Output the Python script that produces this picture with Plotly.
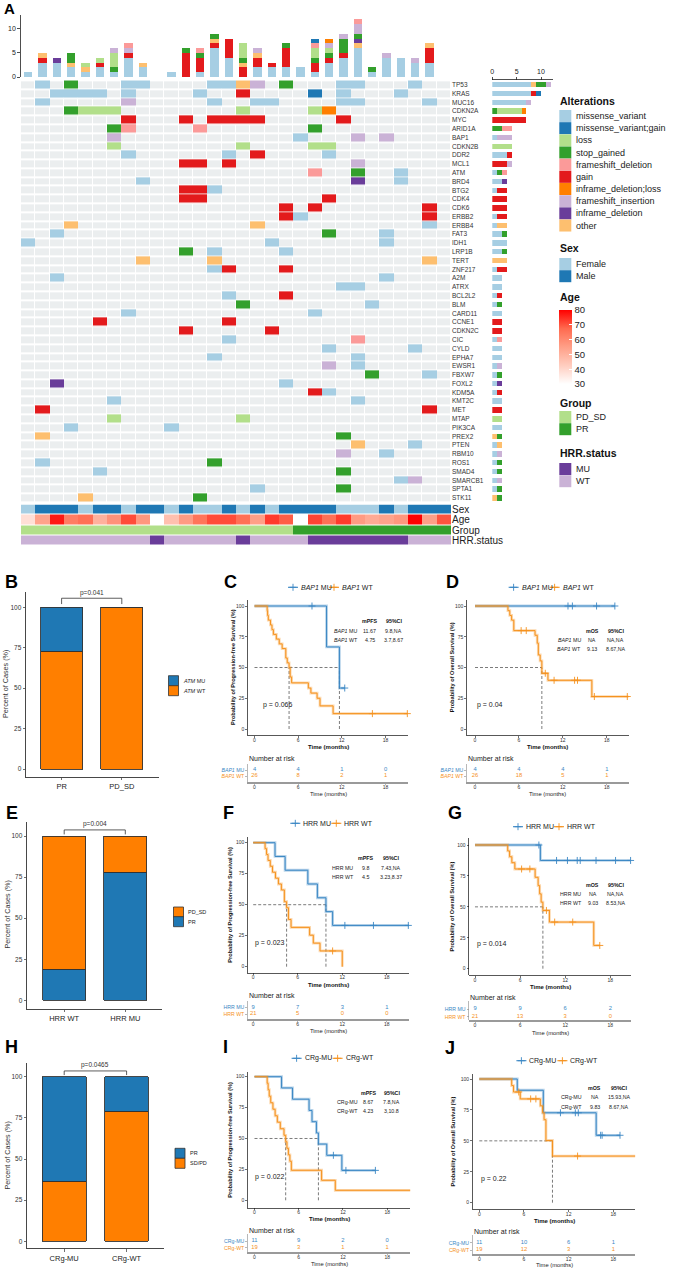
import numpy as np
import plotly.graph_objects as go

W, H = 681, 1270
FONT = "Liberation Sans, Arial, Helvetica, sans-serif"

# ======================= Panel A : oncoprint data =======================
SAMPLES = list(range(30))
GENES = ["TP53", "KRAS", "MUC16", "CDKN2A", "MYC", "ARID1A", "BAP1", "CDKN2B", "DDR2", "MCL1",
         "ATM", "BRD4", "BTG2", "CDK4", "CDK6", "ERBB2", "ERBB4", "FAT3", "IDH1", "LRP1B", "TERT",
         "ZNF217", "A2M", "ATRX", "BCL2L2", "BLM", "CARD11", "CCNE1", "CDKN2C", "CIC", "CYLD",
         "EPHA7", "EWSR1", "FBXW7", "FOXL2", "KDM5A", "KMT2C", "MET", "MTAP", "PIK3CA", "PREX2",
         "PTEN", "RBM10", "ROS1", "SMAD4", "SMARCB1", "SPTA1", "STK11"]
GENE_PCT = (["40%", "33%", "27%", "23%", "23%", "13%", "13%", "13%", "13%", "13%"]
            + ["10%"] * 12 + ["7%"] * 26)
# "<sample><code>" ; codes: m missense, M missense;gain, l loss, s stop_gained, d frameshift_deletion,
# g gain, L inframe_deletion;loss, i frameshift_insertion, n inframe_deletion, o other
GENE_ALTS = [
    "1m 3s 7m 8m 13m 14m 15o 16i 18s 22m 23m 27m",   # TP53
    "2m 3m 4m 5m 7m 12m 15g 20M 22m 26m",             # KRAS
    "1m 7i 13m 16m 17m 22m 23m 28m",                  # MUC16
    "3s 4l 5l 6l 15l 20l 21L",                        # CDKN2A
    "7g 11g 13g 14g 15g 16g 22g",                     # MYC
    "6s 7d 12d 20s",                                  # ARID1A
    "6i 19m 23i 25i",                                 # BAP1
    "6l 15l 20l 21l",                                 # CDKN2B
    "7m 14m 16g 21m",                                 # DDR2
    "11g 12g 14g 23i",                                # MCL1
    "20d 23s 26m",                                    # ATM
    "8m 23n 26m",                                     # BRD4
    "11g 12g 13m",                                    # BTG2
    "11g 12g 21g",                                    # CDK4
    "18g 20g 28g",                                    # CDK6
    "18g 19m 28g",                                    # ERBB2
    "3o 16o 28m",                                     # ERBB4
    "2m 21s 25m",                                     # FAT3
    "0m 17m 25m",                                     # IDH1
    "11s 13m 18m",                                    # LRP1B
    "8o 13o 28o",                                     # TERT
    "13m 14g 18g",                                    # ZNF217
    "2m 25m",                                         # A2M
    "22m 23m",                                        # ATRX
    "14m 18g",                                        # BCL2L2
    "15s 24m",                                        # BLM
    "7m 20m",                                         # CARD11
    "5g 14g",                                         # CCNE1
    "11g 17g",                                        # CDKN2C
    "14m 23d",                                        # CIC
    "21m 27m",                                        # CYLD
    "13m 23m",                                        # EPHA7
    "21i 23m",                                        # EWSR1
    "24s 28m",                                        # FBXW7
    "2n 18m",                                         # FOXL2
    "20g 21m",                                        # KDM5A
    "6m 23m",                                         # KMT2C
    "1g 28g",                                         # MET
    "6l 15l",                                         # MTAP
    "3m 10m",                                         # PIK3CA
    "1o 22s",                                         # PREX2
    "23o 27m",                                        # PTEN
    "22i 25m",                                        # RBM10
    "1m 13s",                                         # ROS1
    "5m 22s",                                         # SMAD4
    "26m 27i",                                        # SMARCB1
    "16m 22s",                                        # SPTA1
    "4o 12s",                                         # STK11
]
ALT_NAMES = ["missense_variant", "missense_variant;gain", "loss", "stop_gained", "frameshift_deletion",
             "gain", "inframe_deletion;loss", "frameshift_insertion", "inframe_deletion", "other"]
ALT_CODES = ["m", "M", "l", "s", "d", "g", "L", "i", "n", "o"]
ALT_COLORS = ["#A6CEE3", "#1F78B4", "#B2DF8A", "#33A02C", "#FB9A99", "#E31A1C", "#FF7F00",
              "#CAB2D6", "#6A3D9A", "#FDBF6F"]
STACK_ORDER = ["m", "g", "o", "n", "s", "l", "i", "d", "M", "L"]

SEX = ["Female", "Male", "Male", "Male", "Female", "Male", "Male", "Female", "Male", "Male",
       "Female", "Male", "Female", "Female", "Male", "Female", "Male", "Female", "Male", "Male",
       "Male", "Male", "Female", "Female", "Female", "Male", "Female", "Male", "Male", "Male"]
AGE = [38, 54, 77, 63, 66, 50, 58, 71, 57, None, 46, 56, 65, 71, 71, 66, 55, 73, 69, None,
       72, 66, 73, 56, 52, 54, 57, 80, 55, 70]
GROUP = ["PD_SD"] * 19 + ["PR"] * 11
HRR = ["WT"] * 9 + ["MU"] + ["WT"] * 5 + ["MU"] + ["WT"] * 4 + ["MU"] * 7 + ["WT"] * 3
SEX_LEVELS, SEX_COLORS = ["Female", "Male"], ["#A6CEE3", "#1F78B4"]
GROUP_LEVELS, GROUP_COLORS = ["PD_SD", "PR"], ["#B2DF8A", "#33A02C"]
HRR_LEVELS, HRR_COLORS = ["MU", "WT"], ["#6A3D9A", "#CAB2D6"]
AGE_TICKS = [30, 40, 50, 60, 70, 80]
TRACK_NAMES = ["Sex", "Age", "Group", "HRR.status"]

# ======================= Bar panels B, E, H =======================
B_CATS = ["PR", "PD_SD"]
B_ATM_WT = [72.7, 100.0]
B_ATM_MU = [27.3, 0.0]
E_CATS = ["HRR WT", "HRR MU"]
E_PR = [19.0, 77.8]
E_PDSD = [81.0, 22.2]
H_CATS = ["CRg-MU", "CRg-WT"]
H_SDPD = [36.4, 78.9]
H_PR = [63.6, 21.1]

# ======================= KM panels =======================
KM_TICKS = [0, 6, 12, 18]
# C : PFS by BAP1
C_MU_T = [0, 9.9, 11.67, 12.4]
C_MU_S = [100, 66.7, 33.3, 33.3]
C_MU_CT = [7.9, 12.4]
C_MU_CS = [100, 33.3]
C_WT_T = [0, 1.74, 1.8, 1.9, 2.2, 2.4, 2.6, 3.0, 3.4, 3.8, 4.3, 4.5, 4.75, 4.9, 5.1, 7.4, 7.75, 8.6, 9.0, 10.8, 21.0]
C_WT_S = [100, 96.2, 92.3, 88.5, 84.6, 80.8, 76.9, 73.1, 69.2, 65.4, 57.7, 53.8, 50.0, 42.3, 37.5, 33.3, 29.2, 25.0, 18.8, 12.5, 12.5]
C_WT_CT = [16.2, 21.0]
C_WT_CS = [12.5, 12.5]
C_RISK_MU = [4, 4, 1, 0]
C_RISK_WT = [26, 8, 2, 1]
C_MED = [11.67, 4.75]
C_MED_TXT = ["11.67", "4.75"]
C_CI_TXT = ["9.8,NA", "3.7,8.67"]
# D : OS by BAP1
D_MU_T = [0, 19.1]
D_MU_S = [100, 100]
D_MU_CT = [12.7, 13.3, 16.6, 19.1]
D_MU_CS = [100, 100, 100, 100]
D_WT_T = [0, 4.5, 4.75, 5.0, 5.3, 8.2, 8.5, 8.65, 8.9, 9.13, 9.96, 15.96, 21.0]
D_WT_S = [100, 96.2, 92.3, 88.5, 80.0, 76.2, 69.8, 60.2, 55.4, 45.3, 39.6, 26.4, 26.4]
D_WT_CT = [6.3, 7.0, 9.6, 10.8, 13.6, 14.0, 16.3, 20.8]
D_WT_CS = [80.0, 80.0, 45.3, 39.6, 39.6, 39.6, 26.4, 26.4]
D_RISK_MU = [4, 4, 4, 1]
D_RISK_WT = [26, 18, 5, 1]
D_MED = [9.13]
D_MED_TXT = ["NA", "9.13"]
D_CI_TXT = ["NA,NA", "8.67,NA"]
# F : PFS by HRR
F_MU_T = [0, 2.94, 4.3, 7.36, 8.65, 9.8, 10.7, 21.0]
F_MU_S = [100, 88.9, 77.8, 66.7, 55.6, 44.4, 33.3, 33.3]
F_MU_CT = [12.35, 16.2, 20.9]
F_MU_CS = [33.3, 33.3, 33.3]
F_WT_T = [0, 1.6, 1.8, 2.0, 2.3, 2.6, 3.0, 3.4, 3.8, 4.2, 4.5, 4.75, 5.1, 7.6, 8.1, 9.0, 12.0]
F_WT_S = [100, 95.2, 90.5, 85.7, 81.0, 76.2, 71.4, 66.7, 61.9, 52.4, 47.6, 38.1, 31.7, 25.4, 19.0, 12.7, 0]
F_WT_CT = [10.7]
F_WT_CS = [12.7]
F_RISK_MU = [9, 7, 3, 1]
F_RISK_WT = [21, 5, 0, 0]
F_MED = [9.8, 4.5]
F_MED_TXT = ["9.8", "4.5"]
F_CI_TXT = ["7.43,NA", "3.23,8.37"]
# G : OS by HRR
G_MU_T = [0, 8.7, 20.7]
G_MU_S = [100, 87.5, 87.5]
G_MU_CT = [8.5, 10.85, 12.3, 13.6, 14.0, 16.1, 18.7, 20.7]
G_MU_CS = [100, 87.5, 87.5, 87.5, 87.5, 87.5, 87.5, 87.5]
G_WT_T = [0, 4.35, 4.6, 4.9, 5.3, 8.0, 8.4, 8.6, 8.8, 9.03, 9.9, 15.8, 16.6]
G_WT_S = [100, 95.2, 90.5, 85.7, 80.6, 73.9, 67.2, 60.5, 53.8, 47.1, 37.7, 18.8, 18.8]
G_WT_CT = [6.2, 7.3, 9.5, 10.6, 13.0, 16.6]
G_WT_CS = [80.6, 80.6, 47.1, 37.7, 37.7, 18.8]
G_RISK_MU = [9, 9, 6, 2]
G_RISK_WT = [21, 13, 3, 0]
G_MED = [9.03]
G_MED_TXT = ["NA", "9.03"]
G_CI_TXT = ["NA,NA", "8.53,NA"]
# I : PFS by CRg
I_MU_T = [0, 3.67, 5.16, 7.4, 7.8, 8.4, 8.67, 9.8, 11.85, 16.4]
I_MU_S = [100, 90.9, 81.8, 72.7, 63.6, 54.5, 45.5, 36.4, 24.2, 24.2]
I_MU_CT = [10.7, 12.4, 16.4]
I_MU_CS = [36.4, 24.2, 24.2]
I_WT_T = [0, 1.72, 1.85, 2.0, 2.2, 2.5, 2.8, 3.1, 3.5, 4.0, 4.23, 4.4, 4.6, 4.8, 5.0, 9.1, 10.96, 21.15]
I_WT_S = [100, 94.7, 89.5, 84.2, 78.9, 73.7, 68.4, 63.2, 57.9, 52.6, 47.4, 42.1, 36.8, 31.6, 24.3, 16.2, 8.1, 8.1]
I_WT_CT = [21.15]
I_WT_CS = [8.1]
I_RISK_MU = [11, 9, 2, 0]
I_RISK_WT = [19, 3, 1, 1]
I_MED = [8.67, 4.23]
I_MED_TXT = ["8.67", "4.23"]
I_CI_TXT = ["7.8,NA", "3,10.8"]
# J : OS by CRg
J_MU_T = [0, 5.1, 8.6, 15.7, 18.9]
J_MU_S = [100, 90.9, 72.7, 54.5, 54.5]
J_MU_CT = [10.9, 12.9, 13.3, 16.3, 16.5, 18.9]
J_MU_CS = [72.7, 72.7, 72.7, 54.5, 54.5, 54.5]
J_WT_T = [0, 4.35, 4.6, 5.5, 8.2, 8.5, 8.7, 8.95, 9.83, 21.0]
J_WT_S = [100, 94.7, 89.5, 83.9, 78.3, 72.7, 67.1, 50.3, 37.7, 37.7]
J_WT_CT = [5.3, 6.9, 7.6, 13.2, 21.0]
J_WT_CS = [89.5, 83.9, 83.9, 37.7, 37.7]
J_RISK_MU = [11, 10, 6, 1]
J_RISK_WT = [19, 12, 3, 1]
J_MED = [9.83]
J_MED_TXT = ["NA", "9.83"]
J_CI_TXT = ["15.93,NA", "8.67,NA"]

KM_BLUE, KM_ORANGE = "#3A87C4", "#F5921E"
BAR_BLUE, BAR_ORANGE = "#1F78B4", "#FF7F00"

# ======================= helpers =======================
fig = go.Figure()
LAYOUT_AXES = {}
ANNS = []
_n = [0]


def new_axes(x0, x1, y0, y1, xkw=None, ykw=None):
    _n[0] += 1
    s = "" if _n[0] == 1 else str(_n[0])
    xd = dict(domain=[max(0.0, x0 / W), min(1.0, x1 / W)], anchor="y" + s,
              showgrid=False, zeroline=False, automargin=False, fixedrange=True)
    yd = dict(domain=[max(0.0, 1 - y1 / H), min(1.0, 1 - y0 / H)], anchor="x" + s,
              showgrid=False, zeroline=False, automargin=False, fixedrange=True)
    xd.update(xkw or {})
    yd.update(ykw or {})
    LAYOUT_AXES["xaxis" + s] = xd
    LAYOUT_AXES["yaxis" + s] = yd
    return "x" + s, "y" + s


def txt(x, y, s, size, color="#222", xanchor="center", yanchor="middle", angle=0):
    ANNS.append(dict(x=x / W, y=1 - y / H, xref="paper", yref="paper", text=s, showarrow=False,
                     xanchor=xanchor, yanchor=yanchor, textangle=angle, borderpad=0,
                     font=dict(size=size, color=color, family=FONT)))


def discrete_scale(colors):
    n = len(colors)
    cs = []
    for i, c in enumerate(colors):
        cs += [[i / n, c], [(i + 1) / n, c]]
    return cs


def rgba(hexc, a):
    h = hexc.lstrip("#")
    return "rgba(%d,%d,%d,%.2f)" % (int(h[0:2], 16), int(h[2:4], 16), int(h[4:6], 16), a)


# ======================= Panel A =======================
NR, NC = len(GENES), len(SAMPLES)
code_idx = {c: i for i, c in enumerate(ALT_CODES)}
alt = np.full((NR, NC), np.nan)
for r, s in enumerate(GENE_ALTS):
    for tok in s.split():
        alt[r, int(tok[:-1])] = code_idx[tok[-1]]
alt_list = [[None if np.isnan(v) else int(v) for v in row] for row in alt]

AX_L, AX_R = 21, 451
ROW_T, ROW_B = 80.35, 502.3
tick_small = dict(ticks="outside", ticklen=3, tickwidth=0.8, tickcolor="#222", showline=True,
                  linecolor="#222", linewidth=0.8, tickfont=dict(size=7, color="#222"))

# top stacked bars
xt, yt = new_axes(AX_L, AX_R, 15, 77, xkw=dict(range=[-0.5, NC - 0.5], visible=False),
                  ykw=dict(range=[0, 12.9], tickvals=[0, 5, 10], **tick_small))
for code in STACK_ORDER:
    k = code_idx[code]
    counts = [int(np.sum(alt[:, c] == k)) for c in range(NC)]
    fig.add_trace(go.Bar(x=SAMPLES, y=counts, width=0.58, xaxis=xt, yaxis=yt, hoverinfo="skip",
                         marker=dict(color=ALT_COLORS[k], line=dict(width=0))))

# main matrix
xm, ym = new_axes(AX_L, AX_R, ROW_T, ROW_B, xkw=dict(range=[-0.5, NC - 0.5], visible=False),
                  ykw=dict(range=[NR - 0.5, -0.5], side="right", tickvals=list(range(NR)), ticktext=GENES,
                           ticks="", showline=False, tickfont=dict(size=6.5, color="#333")))
fig.add_trace(go.Heatmap(z=[[0] * NC for _ in range(NR)], x=SAMPLES, y=list(range(NR)),
                         colorscale=[[0, "#EBEEEF"], [1, "#EBEEEF"]], showscale=False, xgap=1, ygap=2,
                         xaxis=xm, yaxis=ym, hoverinfo="skip"))
fig.add_trace(go.Heatmap(z=alt_list, x=SAMPLES, y=list(range(NR)), colorscale=discrete_scale(ALT_COLORS),
                         zmin=-0.5, zmax=len(ALT_COLORS) - 0.5, showscale=False, xgap=0, ygap=0.8,
                         xaxis=xm, yaxis=ym, hoverinfo="skip"))
fig.add_trace(go.Scatter(x=[-0.55] * NR, y=list(range(NR)), mode="text", text=GENE_PCT,
                         textposition="middle left", cliponaxis=False, xaxis=xm, yaxis=ym,
                         textfont=dict(size=6.8, color="#222"), hoverinfo="skip"))

# annotation tracks
xa_, ya_ = new_axes(AX_L, AX_R, 504.5, 545.5, xkw=dict(range=[-0.5, NC - 0.5], visible=False),
                    ykw=dict(range=[3.5, -0.5], side="right", tickvals=[0, 1, 2, 3], ticktext=TRACK_NAMES,
                             ticks="", showline=False, tickfont=dict(size=10, color="#222")))
track_colors = SEX_COLORS + GROUP_COLORS + HRR_COLORS
cat_z = [[SEX_LEVELS.index(v) for v in SEX],
         [None] * NC,
         [2 + GROUP_LEVELS.index(v) for v in GROUP],
         [4 + HRR_LEVELS.index(v) for v in HRR]]
fig.add_trace(go.Heatmap(z=cat_z, x=SAMPLES, y=[0, 1, 2, 3], colorscale=discrete_scale(track_colors),
                         zmin=-0.5, zmax=len(track_colors) - 0.5, showscale=False, ygap=1,
                         xaxis=xa_, yaxis=ya_, hoverinfo="skip"))
AGE_SCALE = [[0, "#FFFFFF"], [0.25, "#FFCDBF"], [0.5, "#FF9F87"], [0.75, "#FF6A4F"], [1, "#FF0000"]]
age_z = [[None] * NC, AGE, [None] * NC, [None] * NC]
fig.add_trace(go.Heatmap(z=age_z, x=SAMPLES, y=[0, 1, 2, 3], colorscale=AGE_SCALE, zmin=30, zmax=80,
                         ygap=1, xaxis=xa_, yaxis=ya_, hoverinfo="skip", showscale=True,
                         colorbar=dict(x=559 / W, xanchor="left", y=1 - 310 / H, yanchor="top",
                                       len=74, lenmode="pixels", thickness=13, thicknessmode="pixels",
                                       xpad=0, ypad=0, outlinewidth=0, tickvals=AGE_TICKS,
                                       ticks="inside", ticklen=3, tickcolor="white",
                                       tickfont=dict(size=9.5, color="#222", family=FONT))))

# right-side bars
xr_, yr_ = new_axes(492.3, 552.7, ROW_T, ROW_B,
                    xkw=dict(range=[0, 12.4], side="top", tickvals=[0, 5, 10], **tick_small),
                    ykw=dict(range=[NR - 0.5, -0.5], visible=False))
for code in STACK_ORDER:
    k = code_idx[code]
    counts = [int(np.sum(alt[r, :] == k)) for r in range(NR)]
    fig.add_trace(go.Bar(y=list(range(NR)), x=counts, orientation="h", width=0.62, xaxis=xr_, yaxis=yr_,
                         hoverinfo="skip", marker=dict(color=ALT_COLORS[k], line=dict(width=0))))

txt(3, 9, "<b>A</b>", 15, "#000", xanchor="left")

# ======================= page axis for legend glyphs =======================
page_traces = []


def page_markers(xs, ys, colors, size, symbol="square", line_color=None, line_width=0):
    page_traces.append(dict(x=xs, y=ys, mode="markers",
                            marker=dict(symbol=symbol, size=size, color=colors,
                                        line=dict(color=line_color or colors, width=line_width))))


def page_line(xs, ys, color, width):
    page_traces.append(dict(x=xs, y=ys, mode="lines", line=dict(color=color, width=width)))


# oncoprint legends
LEG_X = 559
SW_CX = 565.3
TX = 574.5
PITCH = 12.17
LEG_FS = 9
TITLE_FS = 10.5
txt(LEG_X, 100.7, "<b>Alterations</b>", TITLE_FS, "#111", xanchor="left")
alt_leg_y = [116 + PITCH * i for i in range(len(ALT_NAMES))]
page_markers([SW_CX] * len(ALT_NAMES), alt_leg_y, ALT_COLORS, 12)
for name, yy in zip(ALT_NAMES, alt_leg_y):
    txt(TX, yy, name, LEG_FS, "#222", xanchor="left")

txt(LEG_X, 248.3, "<b>Sex</b>", TITLE_FS, "#111", xanchor="left")
page_markers([SW_CX] * 2, [264, 276.2], SEX_COLORS, 12)
for name, yy in zip(SEX_LEVELS, [264, 276.2]):
    txt(TX, yy, name, LEG_FS, "#222", xanchor="left")

txt(LEG_X, 297, "<b>Age</b>", TITLE_FS, "#111", xanchor="left")

txt(LEG_X, 402.7, "<b>Group</b>", TITLE_FS, "#111", xanchor="left")
page_markers([SW_CX] * 2, [417, 429.2], GROUP_COLORS, 12)
for name, yy in zip(GROUP_LEVELS, [417, 429.2]):
    txt(TX, yy, name, LEG_FS, "#222", xanchor="left")

txt(LEG_X, 452.7, "<b>HRR.status</b>", TITLE_FS, "#111", xanchor="left")
page_markers([SW_CX] * 2, [469, 481.2], HRR_COLORS, 12)
for name, yy in zip(HRR_LEVELS, [469, 481.2]):
    txt(TX, yy, name, LEG_FS, "#222", xanchor="left")

# ======================= Bar panels =======================
BAR_PANELS = [
    dict(letter="B", lpos=(11, 582), cats=B_CATS, series=[(B_ATM_WT, BAR_ORANGE), (B_ATM_MU, BAR_BLUE)],
         pval="p=0.041", leg=[("<i>ATM</i> MU", BAR_BLUE), ("<i>ATM</i> WT", BAR_ORANGE)],
         g=dict(xl=26, xr=159, yt=591.7, yb=776.7, y0p=769, y100p=607.3, c0=61.6, c1=121.8,
                bt=105.6, bb=102, ytx=5, ytc=684, lx=173.5, ly=[680.7, 690.7], ltx=182.5)),
    dict(letter="E", lpos=(12, 813), cats=E_CATS, series=[(E_PR, BAR_BLUE), (E_PDSD, BAR_ORANGE)],
         pval="p=0.004", leg=[("PD_SD", BAR_ORANGE), ("PR", BAR_BLUE)],
         g=dict(xl=27, xr=162.4, yt=821.7, yb=1008.7, y0p=1000.3, y100p=836, c0=64.2, c1=125.3,
                bt=103.7, bb=101, ytx=6.5, ytc=915, lx=178.5, ly=[912, 921.7], ltx=186.8)),
    dict(letter="H", lpos=(11.5, 1047), cats=H_CATS, series=[(H_SDPD, BAR_ORANGE), (H_PR, BAR_BLUE)],
         pval="p=0.0465", leg=[("PR", BAR_BLUE), ("SD/PD", BAR_ORANGE)],
         g=dict(xl=27, xr=163.7, yt=1063.3, yb=1248.3, y0p=1241.3, y100p=1076.7, c0=64.2, c1=126.6,
                bt=103.5, bb=101, ytx=6.5, ytc=1156, lx=180, ly=[1153.3, 1163.3], ltx=188.6)),
]

for p in BAR_PANELS:
    g = p["g"]
    ppc = g["c1"] - g["c0"]
    xrng = [(g["xl"] - g["c0"]) / ppc, (g["xr"] - g["c0"]) / ppc]
    ppp = (g["y0p"] - g["y100p"]) / 100
    yrng = [-(g["yb"] - g["y0p"]) / ppp, (g["y0p"] - g["yt"]) / ppp]
    common = dict(showline=True, linecolor="#333", linewidth=0.9, ticks="outside", ticklen=2.5,
                  tickwidth=0.7, tickcolor="#333")
    xa, ya = new_axes(g["xl"], g["xr"], g["yt"], g["yb"],
                      xkw=dict(range=xrng, tickvals=[0, 1], ticktext=p["cats"],
                               tickfont=dict(size=7.5, color="#222"), **common),
                      ykw=dict(range=yrng, tickvals=[0, 25, 50, 75, 100],
                               tickfont=dict(size=6.5, color="#333"), **common))
    for vals, col in p["series"]:
        fig.add_trace(go.Bar(x=[0, 1], y=vals, width=0.7, xaxis=xa, yaxis=ya, hoverinfo="skip",
                             marker=dict(color=col, line=dict(color="#333", width=0.9))))
    fig.add_trace(go.Scatter(x=[0, 0, 1, 1], y=[g["bb"], g["bt"], g["bt"], g["bb"]], mode="lines",
                             line=dict(color="#333", width=0.8), xaxis=xa, yaxis=ya, hoverinfo="skip",
                             cliponaxis=False))
    ANNS.append(dict(x=0.5, y=g["bt"], xref=xa, yref=ya, text=p["pval"], showarrow=False,
                     yanchor="bottom", borderpad=0, yshift=0.5, font=dict(size=6.5, color="#333", family=FONT)))
    txt(g["ytx"], g["ytc"], "Percent of Cases (%)", 7.2, "#333", angle=-90)
    txt(p["lpos"][0], p["lpos"][1], "<b>%s</b>" % p["letter"], 18, "#000")
    page_markers([g["lx"]] * 2, g["ly"], [c for _, c in p["leg"]], 10, line_color="#333", line_width=0.8)
    for (lab, _), yy in zip(p["leg"], g["ly"]):
        txt(g["ltx"], yy, lab, 5.5, "#222", xanchor="left")

# ======================= KM panels =======================
BAP1_LABELS = ["<i>BAP1</i> MU", "<i>BAP1</i> WT"]
HRR_LABELS = ["HRR MU", "HRR WT"]
CRG_LABELS = ["CRg-MU", "CRg-WT"]
PFS_TITLE = "Probability of Progression-free Survival (%)"
OS_TITLE = "Probability of Overall Survival (%)"

KM_PANELS = [
    dict(letter="C", lpos=(230, 582), labels=BAP1_LABELS, ytitle=PFS_TITLE, head="mPFS",
         curves=[(C_MU_T, C_MU_S, C_MU_CT, C_MU_CS), (C_WT_T, C_WT_S, C_WT_CT, C_WT_CS)],
         risk=(C_RISK_MU, C_RISK_WT), med=C_MED, medt=C_MED_TXT, cit=C_CI_TXT, pval="p = 0.066",
         g=dict(xl=248, xr=408.2, x0p=254.5, x18p=385.5, yt=600, yb=735, y0p=729, y100p=606, ytx=233.5,
                xty=747.3, leg=(288, 587.3), tab=(621, 630.7, 640, 346, 369.5, 393.6), pv=(277, 705),
                nar=758.3, rmu=770, rwt=776, rb=782, rtime=794)),
    dict(letter="D", lpos=(453, 582), labels=BAP1_LABELS, ytitle=OS_TITLE, head="mOS",
         curves=[(D_MU_T, D_MU_S, D_MU_CT, D_MU_CS), (D_WT_T, D_WT_S, D_WT_CT, D_WT_CS)],
         risk=(D_RISK_MU, D_RISK_WT), med=D_MED, medt=D_MED_TXT, cit=D_CI_TXT, pval="p = 0.04",
         g=dict(xl=467.1, xr=628.6, x0p=475, x18p=606.8, yt=600, yb=735, y0p=729, y100p=606, ytx=452.7,
                xty=747.3, leg=(508.6, 587.3), tab=(631, 640, 649, 569, 592, 615.5), pv=(490, 705),
                nar=758.3, rmu=770, rwt=776, rb=782, rtime=794)),
    dict(letter="F", lpos=(228, 813), labels=HRR_LABELS, ytitle=PFS_TITLE, head="mPFS",
         curves=[(F_MU_T, F_MU_S, F_MU_CT, F_MU_CS), (F_WT_T, F_WT_S, F_WT_CT, F_WT_CS)],
         risk=(F_RISK_MU, F_RISK_WT), med=F_MED, medt=F_MED_TXT, cit=F_CI_TXT, pval="p = 0.023",
         g=dict(xl=248, xr=409, x0p=253.2, x18p=386.8, yt=836.7, yb=972.7, y0p=966.7, y100p=842.7, ytx=230,
                xty=984.5, leg=(290.3, 823.3), tab=(858.3, 867.7, 877, 342.7, 365.8, 390.7), pv=(269.7, 943),
                nar=995.7, rmu=1007.3, rwt=1014, rb=1019, rtime=1031)),
    dict(letter="G", lpos=(455, 813), labels=HRR_LABELS, ytitle=OS_TITLE, head="mOS",
         curves=[(G_MU_T, G_MU_S, G_MU_CT, G_MU_CS), (G_WT_T, G_WT_S, G_WT_CT, G_WT_CS)],
         risk=(G_RISK_MU, G_RISK_WT), med=G_MED, medt=G_MED_TXT, cit=G_CI_TXT, pval="p = 0.014",
         g=dict(xl=469.3, xr=630.8, x0p=475, x18p=610.3, yt=838.3, yb=975, y0p=968.7, y100p=845, ytx=451.8,
                xty=986.5, leg=(513, 826.7), tab=(885.3, 894.3, 903.3, 570.6, 592.8, 615.5), pv=(491.4, 944),
                nar=997.7, rmu=1009, rwt=1016.7, rb=1020, rtime=1032.5)),
    dict(letter="I", lpos=(225, 1047), labels=CRG_LABELS, ytitle=PFS_TITLE, head="mPFS",
         curves=[(I_MU_T, I_MU_S, I_MU_CT, I_MU_CS), (I_WT_T, I_WT_S, I_WT_CT, I_WT_CS)],
         risk=(I_RISK_MU, I_RISK_WT), med=I_MED, medt=I_MED_TXT, cit=I_CI_TXT, pval="p = 0.022",
         g=dict(xl=248, xr=410.4, x0p=254.5, x18p=387.2, yt=1071.7, yb=1207.7, y0p=1200.3, y100p=1076.7,
                ytx=230, xty=1219, leg=(291.6, 1058.3), tab=(1092.7, 1101.7, 1111, 347, 368, 391.6),
                pv=(269.5, 1176.7), nar=1230, rmu=1241, rwt=1247.7, rb=1252.3, rtime=1264)),
    dict(letter="J", lpos=(450, 1048), labels=CRG_LABELS, ytitle=OS_TITLE, head="mOS",
         curves=[(J_MU_T, J_MU_S, J_MU_CT, J_MU_CS), (J_WT_T, J_WT_S, J_WT_CT, J_WT_CS)],
         risk=(J_RISK_MU, J_RISK_WT), med=J_MED, medt=J_MED_TXT, cit=J_CI_TXT, pval="p = 0.22",
         g=dict(xl=472.8, xr=635.2, x0p=479.3, x18p=613.3, yt=1074.3, yb=1209.3, y0p=1202.7, y100p=1079,
                ytx=452.7, xty=1221, leg=(516.4, 1060.7), tab=(1088.3, 1097.3, 1106.7, 571.9, 594.6, 619),
                pv=(493.8, 1179), nar=1231.7, rmu=1242.7, rwt=1250, rb=1254, rtime=1265.3)),
]

KM_COLORS = [KM_BLUE, KM_ORANGE]

for p in KM_PANELS:
    g = p["g"]
    ppm = (g["x18p"] - g["x0p"]) / 18.0
    xrng = [(g["xl"] - g["x0p"]) / ppm, (g["xr"] - g["x0p"]) / ppm]
    ppp = (g["y0p"] - g["y100p"]) / 100.0
    yrng = [-(g["yb"] - g["y0p"]) / ppp, (g["y0p"] - g["yt"]) / ppp]
    common = dict(showline=True, linecolor="#111", linewidth=0.7, ticks="outside", ticklen=2,
                  tickwidth=0.6, tickcolor="#111", tickfont=dict(size=5, color="#333"))
    xa, ya = new_axes(g["xl"], g["xr"], g["yt"], g["yb"],
                      xkw=dict(range=xrng, tickvals=KM_TICKS, ticklabelstandoff=-2, **common),
                      ykw=dict(range=yrng, tickvals=[0, 25, 50, 75, 100], **common))
    # median dashed lines
    meds = p["med"]
    dx, dy = [0, max(meds), None], [50, 50, None]
    for m in meds:
        dx += [m, m, None]
        dy += [0, 50, None]
    fig.add_trace(go.Scatter(x=dx, y=dy, mode="lines", line=dict(color="#444", width=0.7, dash="3px,2px"),
                             xaxis=xa, yaxis=ya, hoverinfo="skip"))
    for (T, S, CT, CS), col in zip(p["curves"], KM_COLORS):
        fig.add_trace(go.Scatter(x=T, y=S, mode="lines", line=dict(color=rgba(col, 0.35), width=2.8, shape="hv"),
                                 xaxis=xa, yaxis=ya, hoverinfo="skip"))
        fig.add_trace(go.Scatter(x=T, y=S, mode="lines", line=dict(color=col, width=1.0, shape="hv"),
                                 xaxis=xa, yaxis=ya, hoverinfo="skip"))
        fig.add_trace(go.Scatter(x=CT, y=CS, mode="markers", xaxis=xa, yaxis=ya, hoverinfo="skip", cliponaxis=False,
                                 marker=dict(symbol="cross-thin", size=5, color=col, line=dict(color=col, width=0.9))))
    # axis titles
    txt((g["xl"] + g["xr"]) / 2, g["xty"], "<b>Time (months)</b>", 6, "#111")
    txt(g["ytx"], (g["yt"] + g["yb"]) / 2, "<b>%s</b>" % p["ytitle"], 5.6, "#111", angle=-90)
    # median table
    hy, r1, r2, lcx, vcx, ccx = g["tab"]
    txt(vcx, hy, "<b>%s</b>" % p["head"], 5.3, "#111")
    txt(ccx, hy, "<b>95%CI</b>", 5.3, "#111")
    for lab, mt, ct, yy in zip(p["labels"], p["medt"], p["cit"], [r1, r2]):
        txt(lcx, yy, lab, 5.3, "#222")
        txt(vcx, yy, mt, 5.3, "#222")
        txt(ccx, yy, ct, 5.3, "#222")
    txt(g["pv"][0], g["pv"][1], p["pval"], 7, "#222")
    txt(p["lpos"][0], p["lpos"][1], "<b>%s</b>" % p["letter"], 18, "#000")
    # legend above plot
    L, Y = g["leg"]
    for i, (lab, col) in enumerate(zip(p["labels"], KM_COLORS)):
        x0 = L + 41 * i
        page_line([x0, x0 + 10], [Y, Y], col, 1.1)
        page_markers([x0 + 5], [Y], col, 5, symbol="cross-thin", line_color=col, line_width=0.9)
        txt(x0 + 12, Y, lab, 7, "#222", xanchor="left")
    # risk table
    pitch = g["rwt"] - g["rmu"]
    rrng = [-(g["rb"] - g["rwt"]) / pitch, 2]
    rlabels = ['<span style="color:%s">%s</span>' % (c, l) for l, c in zip(p["labels"], KM_COLORS)]
    xa2, ya2 = new_axes(g["xl"], g["xr"], g["rmu"] - pitch, g["rb"],
                        xkw=dict(range=xrng, tickvals=KM_TICKS, showline=True, linecolor="#9A9A9A", linewidth=1.6,
                                 ticks="outside", ticklen=1.5, tickwidth=0.6, tickcolor="#888",
                                 ticklabelstandoff=-2, tickfont=dict(size=5, color="#333")),
                        ykw=dict(range=rrng, tickvals=[1, 0], ticktext=rlabels, showline=True, linecolor="#9A9A9A",
                                 linewidth=0.7, ticks="outside", ticklen=2, tickwidth=0.6, tickcolor="#888",
                                 tickfont=dict(size=5.2)))
    for yy, vals, col in zip([1, 0], p["risk"], KM_COLORS):
        fig.add_trace(go.Scatter(x=KM_TICKS, y=[yy] * 4, mode="text", text=[str(v) for v in vals],
                                 textfont=dict(size=5.8, color=col, family=FONT), cliponaxis=False,
                                 xaxis=xa2, yaxis=ya2, hoverinfo="skip"))
    txt(g["xl"], g["nar"], "Number at risk", 7, "#222", xanchor="left")
    txt((g["xl"] + g["xr"]) / 2, g["rtime"], "Time (months)", 5.8, "#222")

# page axis (legend glyphs)
xp, yp = new_axes(0, W, 0, H, xkw=dict(range=[0, W], visible=False), ykw=dict(range=[H, 0], visible=False))
for t in page_traces:
    fig.add_trace(go.Scatter(xaxis=xp, yaxis=yp, hoverinfo="skip", cliponaxis=False, **t))

fig.update_layout(
    width=W, height=H, margin=dict(l=0, r=0, t=0, b=0, pad=0, autoexpand=False),
    paper_bgcolor="white", plot_bgcolor="rgba(0,0,0,0)", showlegend=False, barmode="stack", bargap=0,
    font=dict(family=FONT, color="#222"), annotations=ANNS, hovermode=False, **LAYOUT_AXES,
)
fig.write_html("out.html", config={"displayModeBar": False, "staticPlot": True},
               post_script="document.body.style.margin='0px';document.body.style.padding='0px';")
